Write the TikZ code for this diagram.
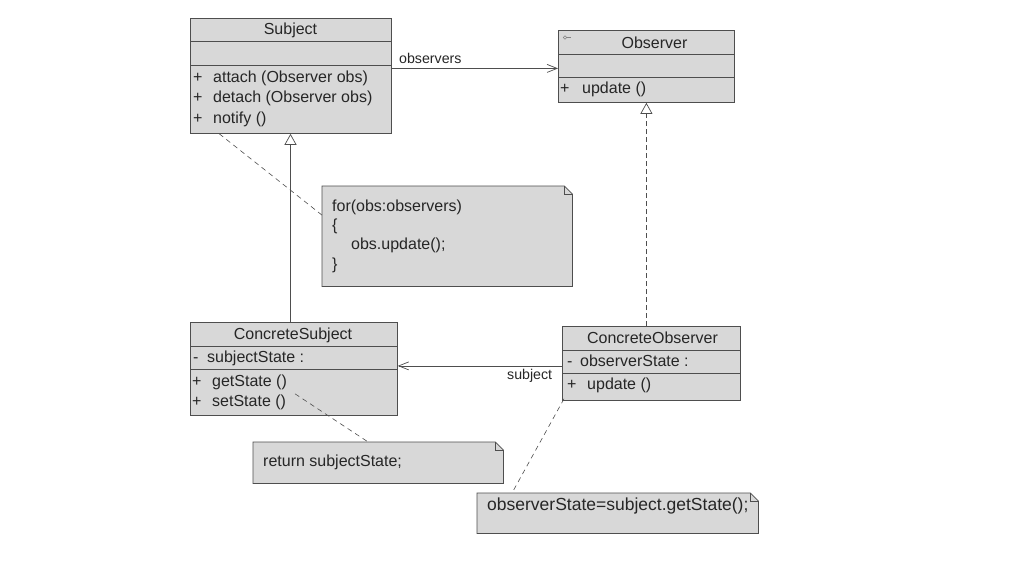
\documentclass[tikz,border=0pt]{standalone}
\usepackage{fontspec}
\setmainfont{Liberation Sans}
\usetikzlibrary{arrows.meta,calc}
\definecolor{boxfill}{RGB}{216,216,216}
\definecolor{linecol}{RGB}{78,78,78}
\definecolor{txtcol}{RGB}{38,38,38}
\newcommand\drawnote[1]{%
  \filldraw[draw=linecol,fill=boxfill,line width=0.8pt,line join=miter]
    (#1.north west) -- ([xshift=-8pt]#1.north east) -- ([yshift=-8pt]#1.north east)
    -- (#1.south east) -- (#1.south west) -- cycle;
  \draw[draw=linecol,line width=0.7pt]
    ([xshift=-8pt]#1.north east) -- ([xshift=-8pt,yshift=-8pt]#1.north east) -- ([yshift=-8pt]#1.north east);}
\begin{document}
\begin{tikzpicture}[x=1pt,y=-1pt,
  cls/.style={draw=linecol,fill=boxfill,line width=0.8pt,inner sep=0pt,anchor=north west},
  notearea/.style={draw=none,fill=none,inner sep=0pt,anchor=north west},
  txt/.style={font=\fontsize{16}{19}\selectfont,text=txtcol,inner sep=0pt,anchor=base west},
  ttl/.style={font=\fontsize{16}{19}\selectfont,text=txtcol,inner sep=0pt,anchor=base},
  lbl/.style={font=\fontsize{14.2}{17}\selectfont,text=txtcol,inner sep=0pt,anchor=base west},
  divider/.style={draw=linecol,line width=0.8pt},
  assoc/.style={draw=linecol,line width=0.7pt,-{Straight Barb[length=10pt,width=8pt]}},
  gen/.style={draw=linecol,line width=0.7pt,-{Triangle[open,length=11pt,width=12pt]}},
  real/.style={gen,dash pattern=on 5pt off 3pt},
  anchorline/.style={draw=linecol,line width=0.6pt,dash pattern=on 5pt off 4pt}]

\useasboundingbox (0,0) rectangle (1009,565);
\fill[white] (0,0) rectangle (1009,565);

% ---------- Subject ----------
\node[cls,minimum width=201pt,minimum height=115pt] (subject) at (190,18) {};
\draw[divider] (subject.west |- 0,41) -- (subject.east |- 0,41);
\draw[divider] (subject.west |- 0,65) -- (subject.east |- 0,65);
\node[ttl] (subjectT) at (290.5,34.5) {Subject};
\node[txt] (sP1) at (193,82) {+};
\node[txt] (sM1) at (213,82) {attach (Observer obs)};
\node[txt] (sP2) at (193,102.5) {+};
\node[txt] (sM2) at (213,102.5) {detach (Observer obs)};
\node[txt] (sP3) at (193,123) {+};
\node[txt] (sM3) at (213,123) {notify ()};

% ---------- Observer ----------
\node[cls,minimum width=176pt,minimum height=72pt] (observer) at (558,30) {};
\draw[divider] (observer.west |- 0,54) -- (observer.east |- 0,54);
\draw[divider] (observer.west |- 0,77) -- (observer.east |- 0,77);
\draw[linecol!70,line width=0.5pt] (565,37.5) circle (1.8pt);
\draw[linecol!70,line width=0.5pt] (566.8,37.5) -- (571,37.5);
\node[ttl] (observerT) at (654.5,48.5) {Observer};
\node[txt] (oP1) at (560,93.5) {+};
\node[txt] (oM1) at (582,93.5) {update ()};

% ---------- ConcreteSubject ----------
\node[cls,minimum width=207pt,minimum height=93pt] (csubject) at (190,322) {};
\draw[divider] (csubject.west |- 0,346) -- (csubject.east |- 0,346);
\draw[divider] (csubject.west |- 0,369) -- (csubject.east |- 0,369);
\node[ttl] (csubjectT) at (293,339.5) {ConcreteSubject};
\node[txt] (csA1) at (193,362.5) {-};
\node[txt] (csA2) at (207,362.5) {subjectState :};
\node[txt] (csP1) at (192,386.5) {+};
\node[txt] (csM1) at (212,386.5) {getState ()};
\node[txt] (csP2) at (192,406) {+};
\node[txt] (csM2) at (212,406) {setState ()};

% ---------- ConcreteObserver ----------
\node[cls,minimum width=178pt,minimum height=74pt] (cobserver) at (562,326) {};
\draw[divider] (cobserver.west |- 0,350) -- (cobserver.east |- 0,350);
\draw[divider] (cobserver.west |- 0,373) -- (cobserver.east |- 0,373);
\node[ttl] (cobserverT) at (652.5,343.5) {ConcreteObserver};
\node[txt] (coA1) at (567,366.5) {-};
\node[txt] (coA2) at (580,366.5) {observerState :};
\node[txt] (coP1) at (567,389.5) {+};
\node[txt] (coM1) at (587,389.5) {update ()};

% ---------- Notes ----------
\node[notearea,minimum width=250pt,minimum height=100pt] (note1) at (322,186) {};
\drawnote{note1}
\node[txt] (n1L1) at (332,211.5) {for(obs:observers)};
\node[txt] (n1L2) at (332,230.5) {\{};
\node[txt] (n1L3) at (351,249.5) {obs.update();};
\node[txt] (n1L4) at (332,269.5) {\}};

\node[notearea,minimum width=250pt,minimum height=41pt] (note2) at (253,442) {};
\drawnote{note2}
\node[txt] (n2L1) at (263,466.5) {return subjectState;};

\node[notearea,minimum width=281pt,minimum height=40pt] (note3) at (477,493) {};
\drawnote{note3}
\node[txt,font=\fontsize{17.5}{20}\selectfont] (n3L1) at (487,510.5) {observerState=subject.getState();};

% ---------- Connectors ----------
\draw[assoc] ([yshift=-2pt]observer.west -| subject.east) -- ([yshift=-2pt]observer.west);
\node[lbl] (obsLbl) at (399,63) {observers};

\draw[gen] (csubject.north -| subjectT) -- (subject.south -| subjectT);

\draw[real] (observer.south |- cobserver.north) -- (observer.south);

\draw[assoc] ([yshift=-2.5pt]cobserver.west) -- ([yshift=-2.5pt]cobserver.west -| csubject.east);
\node[lbl] (subjLbl) at (507,379) {subject};

\coordinate (sAnch) at ($(subject.south west)!0.145!(subject.south east)$);
\coordinate (n1Anch) at ($(note1.north west)!0.29!(note1.south west)$);
\draw[anchorline] (sAnch) -- (n1Anch);

\coordinate (csAnch) at ($(csubject.south west)+(105,-22)$);
\coordinate (n2Anch) at ($(note2.north west)!0.46!(note2.north east)$);
\draw[anchorline] (csAnch) -- (n2Anch);

\coordinate (coAnch) at ($(cobserver.south west)+(2,-2)$);
\coordinate (n3Anch) at ($(note3.north west)+(35,0)$);
\draw[anchorline] (coAnch) -- (n3Anch);
\end{tikzpicture}
\end{document}
